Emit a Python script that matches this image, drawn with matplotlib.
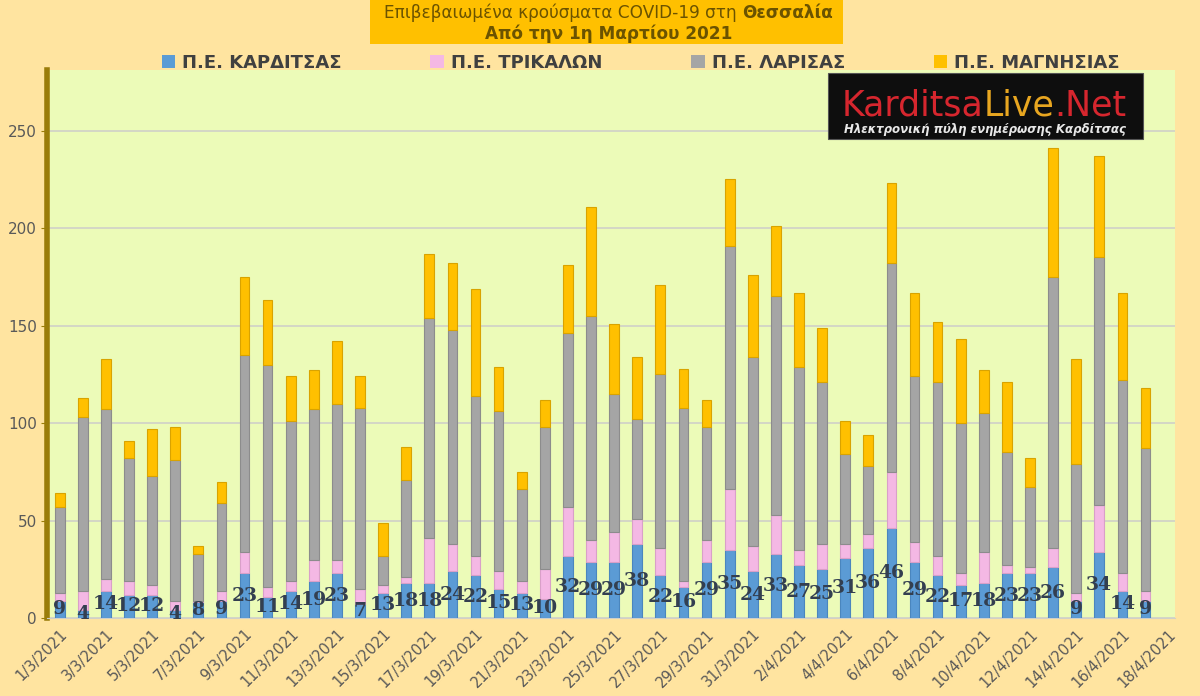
import matplotlib.pyplot as plt
import numpy as np
from matplotlib.patches import Patch, Rectangle

# ημερομηνίες (η τελευταία, 18/4, δεν έχει ακόμη στοιχεία)
dates = [
    "1/3/2021", "2/3/2021", "3/3/2021", "4/3/2021", "5/3/2021", "6/3/2021",
    "7/3/2021", "8/3/2021", "9/3/2021", "10/3/2021", "11/3/2021", "12/3/2021",
    "13/3/2021", "14/3/2021", "15/3/2021", "16/3/2021", "17/3/2021", "18/3/2021",
    "19/3/2021", "20/3/2021", "21/3/2021", "22/3/2021", "23/3/2021", "24/3/2021",
    "25/3/2021", "26/3/2021", "27/3/2021", "28/3/2021", "29/3/2021", "30/3/2021",
    "31/3/2021", "1/4/2021", "2/4/2021", "3/4/2021", "4/4/2021", "5/4/2021",
    "6/4/2021", "7/4/2021", "8/4/2021", "9/4/2021", "10/4/2021", "11/4/2021",
    "12/4/2021", "13/4/2021", "14/4/2021", "15/4/2021", "16/4/2021", "17/4/2021",
    "18/4/2021",
]

karditsa = [9, 4, 14, 12, 12, 4, 8, 9, 23, 11, 14, 19, 23, 7, 13, 18, 18, 24, 22, 15,
            13, 10, 32, 29, 29, 38, 22, 16, 29, 35, 24, 33, 27, 25, 31, 36, 46, 29, 22, 17,
            18, 23, 23, 26, 9, 34, 14, 9]
trikala = [4, 10, 6, 7, 5, 5, 1, 5, 11, 5, 5, 11, 7, 8, 4, 3, 23, 14, 10, 9,
           6, 15, 25, 11, 15, 13, 14, 3, 11, 31, 13, 20, 8, 13, 7, 7, 29, 10, 10, 6,
           16, 4, 3, 10, 4, 24, 9, 5]
larisa = [44, 89, 87, 63, 56, 72, 24, 45, 101, 114, 82, 77, 80, 93, 15, 50, 113, 110, 82, 82,
          47, 73, 89, 115, 71, 51, 89, 89, 58, 125, 97, 112, 94, 83, 46, 35, 107, 85, 89, 77,
          71, 58, 41, 139, 66, 127, 99, 73]
magnisia = [7, 10, 26, 9, 24, 17, 4, 11, 40, 33, 23, 20, 32, 16, 17, 17, 33, 34, 55, 23,
            9, 14, 35, 56, 36, 32, 46, 20, 14, 34, 42, 36, 38, 28, 17, 16, 41, 43, 31, 43,
            22, 36, 15, 66, 54, 52, 45, 31]

series = [
    ("Π.Ε. ΚΑΡΔΙΤΣΑΣ", karditsa, "#5B9BD5", "#4A86BE"),
    ("Π.Ε. ΤΡΙΚΑΛΩΝ", trikala, "#F4B8E4", "#D9A0C8"),
    ("Π.Ε. ΛΑΡΙΣΑΣ", larisa, "#A5A5A5", "#8C8C8C"),
    ("Π.Ε. ΜΑΓΝΗΣΙΑΣ", magnisia, "#FFC000", "#D9A300"),
]

FIG_BG = "#FFE4A0"
PLOT_BG = "#ECFBB8"
TXT = "#595959"

fig = plt.figure(figsize=(12, 6.96), dpi=100, facecolor=FIG_BG)
ax = fig.add_axes([0.039, 0.112, 0.94, 0.787])
ax.set_facecolor(PLOT_BG)

x = np.arange(len(karditsa))
bottom = np.zeros(len(karditsa))
handles = []
for name, vals, color, edge in series:
    ax.bar(x, vals, width=0.42, bottom=bottom, color=color, edgecolor=edge,
           linewidth=0.8, zorder=3)
    bottom += np.array(vals)
    handles.append(Patch(facecolor=color, edgecolor="none", label=name))

# ετικέτες Καρδίτσας στο κέντρο του μπλε τμήματος
for xi, v in zip(x, karditsa):
    ax.text(xi, v / 2, str(v), ha="center", va="center", fontsize=13.5,
            fontweight="bold", family="DejaVu Serif", color="#333F50", zorder=5)

ax.set_xlim(-0.56, len(dates) - 1 + 0.27)
ax.set_ylim(0, 281)
ax.set_yticks(range(0, 251, 50))
ax.tick_params(axis="y", labelsize=11, labelcolor=TXT, color="#9A7D0A", length=4, pad=3)
ax.set_xticks(range(0, len(dates), 2))
ax.set_xticklabels(dates[::2], rotation=45, ha="right", va="top",
                   rotation_mode="anchor", fontsize=10.5, color=TXT)
ax.tick_params(axis="x", length=0, pad=6)
ax.grid(axis="y", color="#D0D0C8", linewidth=1.2, zorder=0)
ax.set_axisbelow(True)
for s in ["top", "right"]:
    ax.spines[s].set_visible(False)
ax.spines["bottom"].set_color("#D0D0C8")
ax.spines["left"].set_color("#9A7D0A")
ax.spines["left"].set_linewidth(4)

# τίτλος σε πορτοκαλί πλαίσιο
fig.patches.append(Rectangle((370 / 1200, 1 - 44 / 696), 473 / 1200, 44 / 696,
                             transform=fig.transFigure, facecolor="#FFC000",
                             edgecolor="none", zorder=1))
title_col = "#6B5300"
fig.text(742 / 1200, 1 - 13 / 696, "Επιβεβαιωμένα κρούσματα COVID-19 στη ",
         ha="right", va="center", fontsize=12.2, color=title_col)
fig.text(742 / 1200, 1 - 13 / 696, "Θεσσαλία", ha="left", va="center",
         fontsize=12.2, fontweight="bold", color=title_col)
fig.text(609 / 1200, 1 - 34 / 696, "Από την 1η Μαρτίου 2021", ha="center",
         va="center", fontsize=12.2, fontweight="bold", color=title_col)

fig.legend(handles=handles, loc="center", bbox_to_anchor=(0.534, 1 - 63 / 696),
           ncol=4, frameon=False, handlelength=0.75, handleheight=0.75,
           handletextpad=0.4, columnspacing=4.9,
           prop={"size": 13, "weight": "bold", "family": "DejaVu Sans"},
           labelcolor="#404040")

# λογότυπο
fig.patches.append(Rectangle((828 / 1200, 1 - 139 / 696), 315 / 1200, 66 / 696,
                             transform=fig.transFigure, facecolor="#0E0E0E",
                             edgecolor="#555555", linewidth=0.8, zorder=4))
renderer = fig.canvas.get_renderer()
xpos = 842 / 1200
for part, col in [("Karditsa", "#D6262E"), ("Live", "#E8A620"), (".Net", "#D6262E")]:
    t = fig.text(xpos, 1 - 106 / 696, part, ha="left", va="center", fontsize=25,
                 color=col, zorder=5)
    bb = t.get_window_extent(renderer)
    xpos += bb.width / fig.bbox.width
fig.text(985 / 1200, 1 - 129 / 696, "Ηλεκτρονική πύλη ενημέρωσης Καρδίτσας",
         ha="center", va="center", fontsize=8.5, fontweight="bold", style="italic",
         color="#E8E8E8", zorder=5)

fig.savefig("out.png", dpi=100, facecolor=FIG_BG)
